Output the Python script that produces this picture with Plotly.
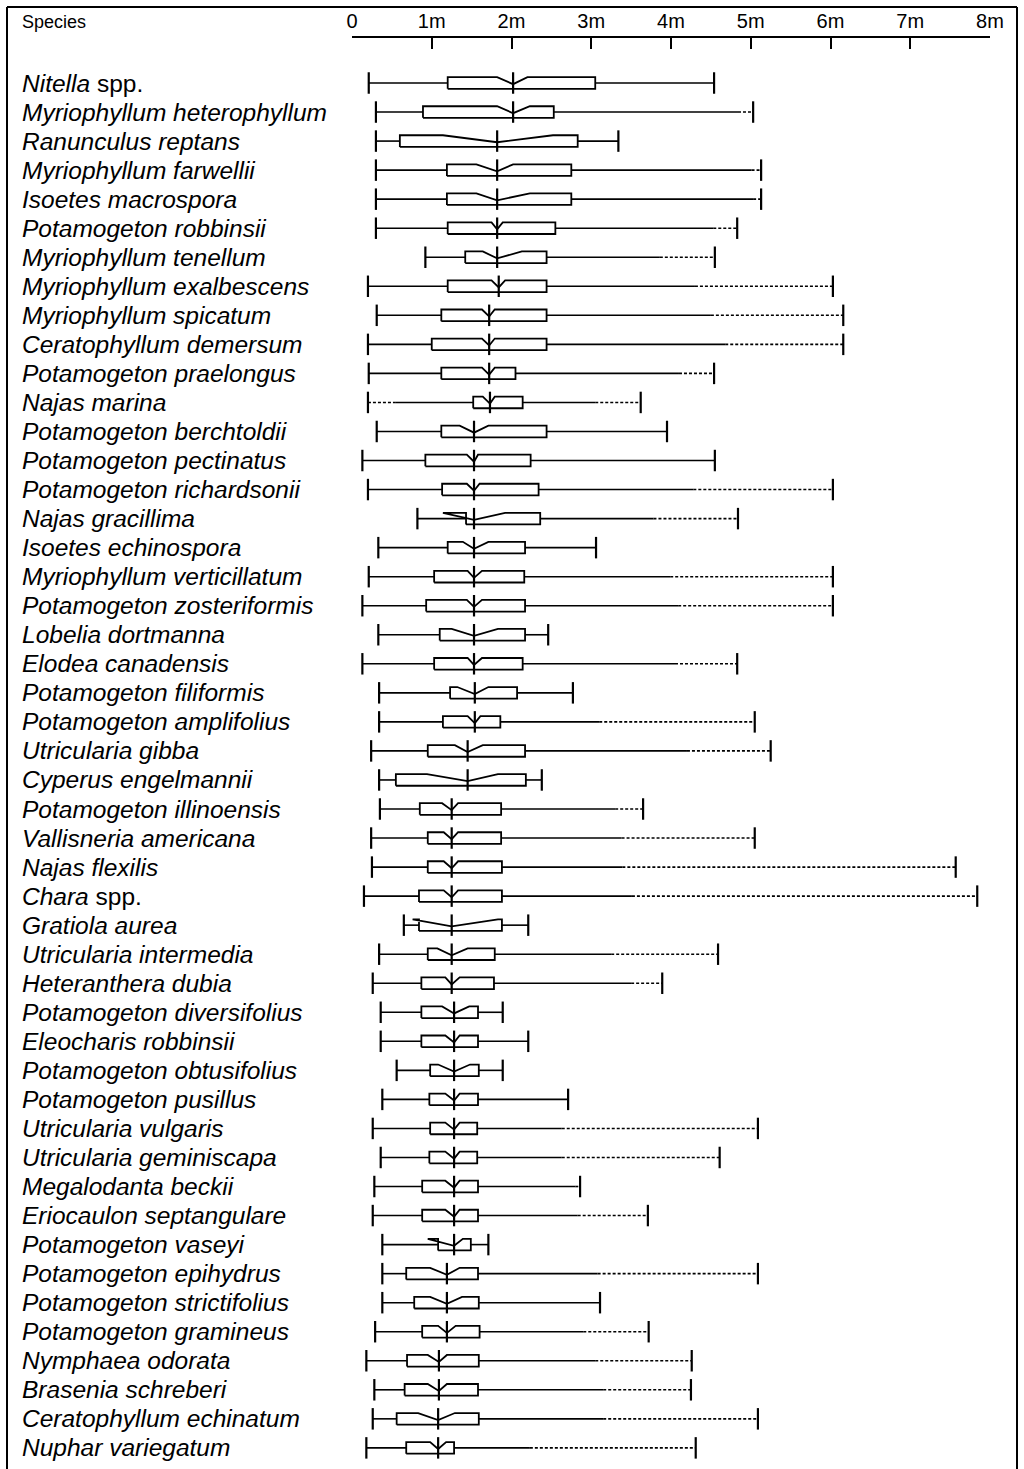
import plotly.graph_objects as go

# Depth distribution (m) of aquatic plant species: notched box summaries
species = [
    "Nitella spp.", "Myriophyllum heterophyllum", "Ranunculus reptans",
    "Myriophyllum farwellii", "Isoetes macrospora", "Potamogeton robbinsii",
    "Myriophyllum tenellum", "Myriophyllum exalbescens", "Myriophyllum spicatum",
    "Ceratophyllum demersum", "Potamogeton praelongus", "Najas marina",
    "Potamogeton berchtoldii", "Potamogeton pectinatus", "Potamogeton richardsonii",
    "Najas gracillima", "Isoetes echinospora", "Myriophyllum verticillatum",
    "Potamogeton zosteriformis", "Lobelia dortmanna", "Elodea canadensis",
    "Potamogeton filiformis", "Potamogeton amplifolius", "Utricularia gibba",
    "Cyperus engelmannii", "Potamogeton illinoensis", "Vallisneria americana",
    "Najas flexilis", "Chara spp.", "Gratiola aurea", "Utricularia intermedia",
    "Heteranthera dubia", "Potamogeton diversifolius", "Eleocharis robbinsii",
    "Potamogeton obtusifolius", "Potamogeton pusillus", "Utricularia vulgaris",
    "Utricularia geminiscapa", "Megalodanta beckii", "Eriocaulon septangulare",
    "Potamogeton vaseyi", "Potamogeton epihydrus", "Potamogeton strictifolius",
    "Potamogeton gramineus", "Nymphaea odorata", "Brasenia schreberi",
    "Ceratophyllum echinatum", "Nuphar variegatum",
]

depth_min = [0.21, 0.30, 0.30, 0.30, 0.30, 0.30, 0.92, 0.20, 0.31, 0.20, 0.21, 0.20,
             0.31, 0.13, 0.20, 0.82, 0.33, 0.21, 0.13, 0.33, 0.13, 0.34, 0.34, 0.24,
             0.34, 0.35, 0.24, 0.25, 0.15, 0.65, 0.34, 0.26, 0.36, 0.36, 0.56, 0.38,
             0.26, 0.36, 0.28, 0.26, 0.38, 0.38, 0.38, 0.29, 0.18, 0.28, 0.26, 0.18]
# start of the solid part of the lower whisker
lower_solid = [0.21, 0.30, 0.30, 0.30, 0.30, 0.30, 0.92, 0.20, 0.31, 0.20, 0.21, 0.55,
               0.31, 0.13, 0.20, 0.82, 0.33, 0.21, 0.13, 0.33, 0.13, 0.34, 0.34, 0.24,
               0.34, 0.35, 0.24, 0.25, 0.15, 0.65, 0.34, 0.26, 0.36, 0.36, 0.56, 0.38,
               0.26, 0.36, 0.28, 0.26, 0.38, 0.38, 0.38, 0.29, 0.18, 0.28, 0.26, 0.18]
q1 = [1.20, 0.89, 0.60, 1.19, 1.19, 1.20, 1.42, 1.20, 1.12, 1.00, 1.12, 1.52,
      1.12, 0.92, 1.13, 1.43, 1.20, 1.03, 0.93, 1.10, 1.03, 1.23, 1.14, 0.95,
      0.55, 0.85, 0.95, 0.95, 0.84, 0.84, 0.95, 0.87, 0.87, 0.87, 0.98, 0.97,
      0.98, 0.97, 0.88, 0.88, 1.08, 0.68, 0.78, 0.88, 0.69, 0.66, 0.56, 0.68]
notch_lo = [1.82, 1.82, 1.14, 1.56, 1.56, 1.75, 1.64, 1.75, 1.63, 1.63, 1.63, 1.64,
            1.35, 1.44, 1.44, 1.14, 1.39, 1.45, 1.44, 1.25, 1.45, 1.32, 1.45, 1.29,
            0.94, 1.13, 1.15, 1.15, 1.15, 0.76, 1.07, 1.17, 1.13, 1.17, 1.08, 1.17,
            1.17, 1.17, 1.17, 1.17, 0.95, 0.98, 0.98, 1.08, 0.95, 0.95, 0.83, 0.98]
median = [2.02, 2.02, 1.82, 1.82, 1.82, 1.82, 1.82, 1.84, 1.72, 1.72, 1.72, 1.73,
          1.53, 1.53, 1.53, 1.53, 1.53, 1.53, 1.53, 1.53, 1.53, 1.54, 1.54, 1.45,
          1.45, 1.25, 1.25, 1.25, 1.25, 1.25, 1.25, 1.25, 1.28, 1.28, 1.28, 1.28,
          1.28, 1.28, 1.28, 1.28, 1.28, 1.19, 1.19, 1.19, 1.09, 1.09, 1.08, 1.08]
notch_hi = [2.20, 2.23, 2.52, 2.02, 2.23, 1.89, 2.13, 1.92, 1.79, 1.79, 1.79, 1.79,
            1.71, 1.58, 1.60, 1.92, 1.71, 1.63, 1.63, 1.83, 1.63, 1.71, 1.61, 1.64,
            1.83, 1.33, 1.33, 1.33, 1.33, 1.83, 1.45, 1.35, 1.47, 1.35, 1.48, 1.35,
            1.35, 1.35, 1.35, 1.35, 1.39, 1.35, 1.38, 1.30, 1.19, 1.19, 1.29, 1.18]
q3 = [3.05, 2.53, 2.83, 2.75, 2.75, 2.55, 2.44, 2.44, 2.44, 2.44, 2.05, 2.14,
      2.44, 2.24, 2.34, 2.36, 2.17, 2.16, 2.17, 2.17, 2.14, 2.07, 1.86, 2.17,
      2.18, 1.87, 1.87, 1.88, 1.88, 1.88, 1.79, 1.78, 1.58, 1.58, 1.59, 1.58,
      1.57, 1.57, 1.58, 1.58, 1.49, 1.58, 1.59, 1.60, 1.59, 1.58, 1.59, 1.28]
# end of the solid part of the upper whisker
upper_solid = [4.54, 4.84, 3.34, 5.01, 5.03, 4.53, 3.86, 4.30, 4.50, 4.68, 4.10, 3.05,
               3.95, 4.55, 4.28, 3.78, 3.06, 3.99, 4.09, 2.46, 4.05, 2.77, 3.10, 4.20,
               2.38, 3.30, 3.38, 3.39, 3.51, 2.21, 3.25, 3.50, 1.89, 2.21, 1.89, 2.71,
               2.63, 2.63, 2.80, 2.83, 1.71, 3.08, 3.11, 2.90, 3.05, 3.15, 3.15, 2.23]
depth_max = [4.54, 5.03, 3.34, 5.13, 5.13, 4.83, 4.55, 6.03, 6.16, 6.16, 4.54, 3.62,
             3.95, 4.55, 6.03, 4.84, 3.06, 6.03, 6.03, 2.46, 4.83, 2.77, 5.05, 5.25,
             2.38, 3.65, 5.05, 7.57, 7.84, 2.21, 4.59, 3.89, 1.89, 2.21, 1.89, 2.71,
             5.09, 4.61, 2.86, 3.71, 1.71, 5.09, 3.11, 3.72, 4.26, 4.25, 5.09, 4.31]

tick_vals = [0, 1, 2, 3, 4, 5, 6, 7, 8]
tick_text = ["0", "1m", "2m", "3m", "4m", "5m", "6m", "7m", "8m"]

W, H = 1024, 1469
ROW0_PX, ROW_PX = 83, 29.04        # centre of first row, row pitch
TOP_PX = 38                        # axis line
L_PX, R_PX = 352, 990              # 0 m and 8 m

BOX_H = 0.20    # half height of the box (rows)
CAP_H = 0.37    # half height of caps and median bar
DIP = 0.24      # depth of the notch below the box top

solid_x, solid_y, dot_x, dot_y = [], [], [], []
bar_x, bar_y, box_x, box_y = [], [], [], []

for i in range(len(species)):
    y = i
    # whiskers
    if lower_solid[i] > depth_min[i]:
        dot_x += [depth_min[i], lower_solid[i], None]
        dot_y += [y, y, None]
    solid_x += [lower_solid[i], q1[i], None, q3[i], upper_solid[i], None]
    solid_y += [y, y, None, y, y, None]
    if depth_max[i] > upper_solid[i]:
        dot_x += [upper_solid[i], depth_max[i], None]
        dot_y += [y, y, None]
    # end caps and median bar
    for v in (depth_min[i], depth_max[i], median[i]):
        bar_x += [v, v, None]
        bar_y += [y - CAP_H, y + CAP_H, None]
    # notched box (notch on the upper edge)
    top, bot = y - BOX_H, y + BOX_H
    box_x += [q1[i], q1[i], notch_lo[i], median[i], notch_hi[i], q3[i], q3[i], q1[i], None]
    box_y += [bot, top, top, top + DIP, top, top, bot, bot, None]

fig = go.Figure()
fig.add_trace(go.Scatter(x=solid_x, y=solid_y, mode="lines",
                         line=dict(color="black", width=1.6), hoverinfo="skip"))
fig.add_trace(go.Scatter(x=dot_x, y=dot_y, mode="lines",
                         line=dict(color="black", width=1.6, dash="3px,2px"), hoverinfo="skip"))
fig.add_trace(go.Scatter(x=box_x, y=box_y, mode="lines",
                         line=dict(color="black", width=1.8), hoverinfo="skip"))
fig.add_trace(go.Scatter(x=bar_x, y=bar_y, mode="lines",
                         line=dict(color="black", width=2.2), hoverinfo="skip"))

y_top = (TOP_PX - ROW0_PX) / ROW_PX
y_bot = (H - ROW0_PX) / ROW_PX
plot_w = R_PX - L_PX
plot_h = H - TOP_PX


def paper_x(px):
    return (px - L_PX) / plot_w


def paper_y(py):
    return (H - py) / plot_h


font = "Liberation Sans, Arial, Helvetica, sans-serif"

annotations = []
for i, name in enumerate(species):
    if name.endswith(" spp."):
        label = "<i>" + name[:-5] + "</i> spp."
    else:
        label = "<i>" + name + "</i>"
    annotations.append(dict(x=paper_x(20), xref="paper", y=i, yref="y", text=label,
                            showarrow=False, xanchor="left", yanchor="middle",
                            font=dict(family=font, size=24.5, color="black")))
annotations.append(dict(x=paper_x(20), xref="paper", y=paper_y(22), yref="paper",
                        text="Species", showarrow=False, xanchor="left", yanchor="middle",
                        font=dict(family=font, size=18, color="black")))

frame = dict(color="black", width=2)
shapes = [
    dict(type="line", xref="paper", yref="paper", x0=paper_x(7), x1=paper_x(1017),
         y0=paper_y(7), y1=paper_y(7), line=frame),
    dict(type="line", xref="paper", yref="paper", x0=paper_x(7), x1=paper_x(7),
         y0=paper_y(7), y1=paper_y(H + 5), line=frame),
    dict(type="line", xref="paper", yref="paper", x0=paper_x(1017), x1=paper_x(1017),
         y0=paper_y(7), y1=paper_y(H + 5), line=frame),
]

fig.update_layout(
    width=W, height=H,
    margin=dict(l=L_PX, r=W - R_PX, t=TOP_PX, b=0),
    paper_bgcolor="white", plot_bgcolor="white",
    showlegend=False,
    xaxis=dict(range=[0, 8], side="top", tickvals=tick_vals, ticktext=tick_text,
               ticks="inside", ticklen=11, tickwidth=2, tickcolor="black",
               showline=True, linecolor="black", linewidth=2, showgrid=False,
               zeroline=False, fixedrange=True,
               tickfont=dict(family=font, size=20, color="black")),
    yaxis=dict(range=[y_bot, y_top], visible=False, showgrid=False, zeroline=False,
               fixedrange=True),
    annotations=annotations,
    shapes=shapes,
)

fig.write_html("out.html")
